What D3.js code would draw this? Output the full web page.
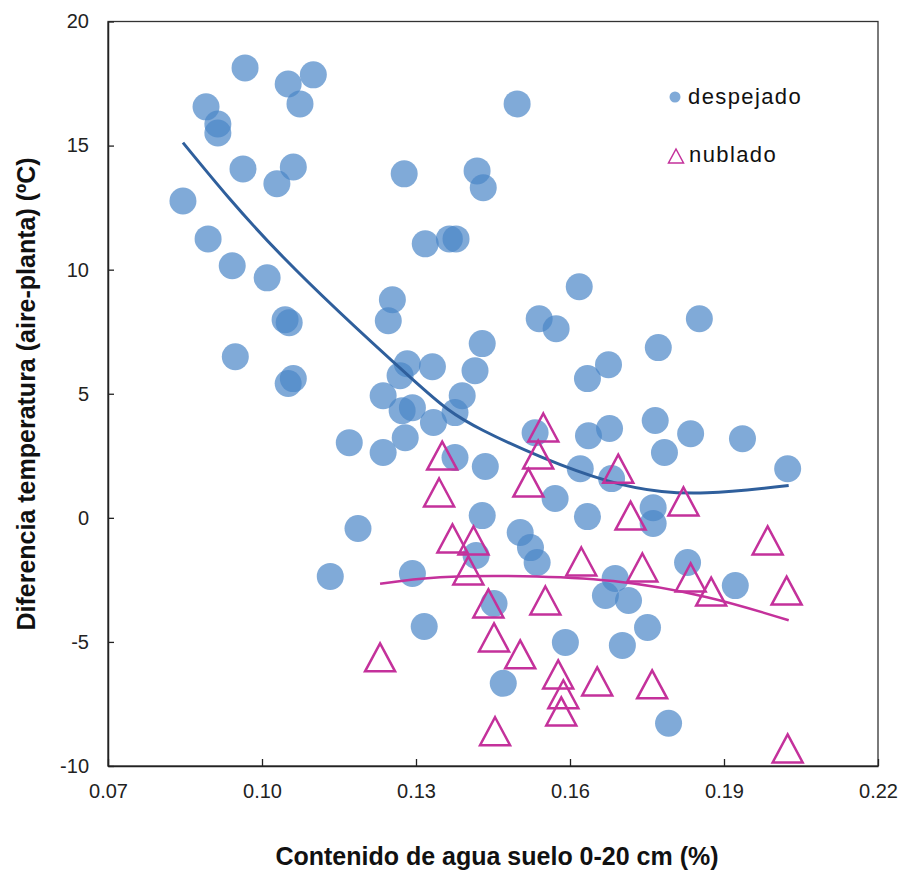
<!DOCTYPE html>
<html>
<head>
<meta charset="utf-8">
<script src="https://cdn.jsdelivr.net/npm/d3@7"></script>
<style>
  body { margin: 0; background: #fff; }
  svg { display: block; }
  text { font-family: "Liberation Sans", Arial, sans-serif; }
</style>
</head>
<body>
<div id="chart"></div>
<script>
// values
var xTicks = [0.07, 0.10, 0.13, 0.16, 0.19, 0.22];
var yTicks = [-10, -5, 0, 5, 10, 15, 20];

// despejado (clear sky) - soil water, temp diff
var despejadoX = [0.0967, 0.0891, 0.0914, 0.0914, 0.1051, 0.1100, 0.1074, 0.0963, 0.1061, 0.1029,
    0.0846, 0.1277, 0.0895, 0.0942, 0.1010, 0.1318, 0.1365, 0.1378, 0.1497, 0.1419,
    0.1431, 0.1254, 0.1246, 0.1045, 0.1053, 0.0948, 0.1051, 0.1061, 0.1429, 0.1415,
    0.1283, 0.1332, 0.1269, 0.1236, 0.1293, 0.1273, 0.1390, 0.1376, 0.1334, 0.1279,
    0.1170, 0.1236, 0.1376, 0.1435, 0.1618, 0.1540, 0.1573, 0.1852, 0.1772, 0.1675,
    0.1634, 0.1766, 0.1835, 0.1936, 0.1784, 0.1636, 0.1677, 0.1532, 0.1620, 0.1681,
    0.1571, 0.1762, 0.1762, 0.1429, 0.1634, 0.1503, 0.1523, 0.1536, 0.1417, 0.1688,
    0.1669, 0.1714, 0.1829, 0.1922, 0.2024, 0.1452, 0.1591, 0.1702, 0.1751, 0.1470,
    0.1792, 0.1187, 0.1133, 0.1293, 0.1316];
var despejadoY = [18.13, 16.56, 15.87, 15.51, 17.48, 17.85, 16.68, 14.06, 14.14, 13.46,
    12.77, 13.86, 11.24, 10.16, 9.67, 11.04, 11.24, 11.24, 16.68, 13.98,
    13.30, 8.79, 7.94, 7.98, 7.86, 6.49, 5.41, 5.61, 7.02, 5.93,
    6.21, 6.09, 5.73, 4.92, 4.44, 4.32, 4.92, 4.24, 3.84, 3.23,
    3.03, 2.63, 2.43, 2.07, 9.31, 8.02, 7.62, 8.02, 6.86, 6.17,
    5.61, 3.92, 3.39, 3.19, 2.63, 3.31, 3.60, 3.43, 1.98, 1.58,
    0.78, 0.41, -0.23, 0.09, 0.05, -0.59, -1.20, -1.80, -1.52, -2.44,
    -3.13, -3.33, -1.80, -2.73, 1.98, -3.45, -5.02, -5.14, -4.42, -6.67,
    -8.28, -0.43, -2.36, -2.24, -4.38];

// nublado (cloudy)
var nubladoX = [0.1230, 0.1351, 0.1345, 0.1371, 0.1412, 0.1402, 0.1441, 0.1452, 0.1503, 0.1454,
    0.1718, 0.1821, 0.1622, 0.1741, 0.1835, 0.1875, 0.1552, 0.1577, 0.1587, 0.1583,
    0.1653, 0.1760, 0.1538, 0.1548, 0.1694, 0.1519, 0.1985, 0.2022, 0.2024];
var nubladoY = [-5.62, 2.51, 1.02, -0.83, -0.91, -2.12, -3.45, -4.82, -5.50, -8.60,
    0.09, 0.66, -1.76, -2.00, -2.40, -2.97, -3.33, -6.31, -7.11, -7.80,
    -6.59, -6.71, 2.55, 3.64, 1.98, 1.42, -0.91, -2.93, -9.29];

// polynomial trend lines
var trendDespejadoX = [0.0846, 0.1042, 0.1289, 0.1432, 0.1672, 0.1867, 0.2026];
var trendDespejadoY = [15.12, 10.49, 5.66, 3.51, 1.50, 1.01, 1.30];
var trendNubladoX = [0.1230, 0.1347, 0.1510, 0.1684, 0.1867, 0.2026];
var trendNubladoY = [-2.66, -2.39, -2.35, -2.55, -3.20, -4.13];

var width = 901, height = 874;
var blue = "#4a86c8", blueLine = "#2f5f9c", pink = "#c4319b";

var svg = d3.select("#chart").append("svg")
    .attr("width", width)
    .attr("height", height);

var x = d3.scaleLinear().domain([0.07, 0.22]).range([108, 878]);
var y = d3.scaleLinear().domain([-10, 20]).range([766, 21.5]);

// plot frame
svg.append("rect")
    .attr("x", x(0.07))
    .attr("y", y(20))
    .attr("width", x(0.22) - x(0.07))
    .attr("height", y(-10) - y(20))
    .attr("fill", "none")
    .attr("stroke", "#333")
    .attr("stroke-width", 1.3);

var xAxis = svg.append("g")
    .attr("transform", "translate(0," + y(-10) + ")")
    .call(d3.axisBottom(x).tickValues(xTicks).tickSizeInner(-7).tickSizeOuter(0)
        .tickFormat(d3.format(".2f")));
xAxis.select(".domain").attr("stroke", "#222").attr("stroke-width", 1.5);
xAxis.selectAll(".tick line").attr("stroke", "#222").attr("stroke-width", 1.3);
xAxis.selectAll(".tick text")
    .attr("y", 18)
    .attr("fill", "#222")
    .style("font-size", "20px");

var yAxis = svg.append("g")
    .attr("transform", "translate(" + x(0.07) + ",0)")
    .call(d3.axisLeft(y).tickValues(yTicks).tickSizeInner(-6).tickSizeOuter(0)
        .tickFormat(function(d) { return String(d); }));
yAxis.select(".domain").attr("stroke", "#222").attr("stroke-width", 1.5);
yAxis.selectAll(".tick line").attr("stroke", "#222").attr("stroke-width", 1.3);
yAxis.selectAll(".tick text")
    .attr("x", -19)
    .attr("fill", "#222")
    .style("font-size", "20px");

// despejado circles
var blueData = despejadoX.map(function(d, i) { return [d, despejadoY[i]]; });
svg.append("g").selectAll("circle")
    .data(blueData)
    .enter()
    .append("circle")
    .attr("cx", function(d) { return x(d[0]); })
    .attr("cy", function(d) { return y(d[1]); })
    .attr("r", 13.5)
    .attr("fill", blue)
    .attr("fill-opacity", 0.7);

// blue trend
var line = d3.line()
    .x(function(d) { return x(d[0]); })
    .y(function(d) { return y(d[1]); })
    .curve(d3.curveNatural);

svg.append("path")
    .datum(trendDespejadoX.map(function(d, i) { return [d, trendDespejadoY[i]]; }))
    .attr("d", line)
    .attr("fill", "none")
    .attr("stroke", blueLine)
    .attr("stroke-width", 3);

// nublado triangles
function triangle(w, h) {
    var p = d3.path();
    p.moveTo(0, -h / 2);
    p.lineTo(w / 2, h / 2);
    p.lineTo(-w / 2, h / 2);
    p.closePath();
    return p.toString();
}
var pinkData = nubladoX.map(function(d, i) { return [d, nubladoY[i]]; });
svg.append("g").selectAll("path")
    .data(pinkData)
    .enter()
    .append("path")
    .attr("transform", function(d) {
        return "translate(" + x(d[0]) + "," + y(d[1]) + ")";
    })
    .attr("d", triangle(30, 28))
    .attr("fill", "none")
    .attr("stroke", pink)
    .attr("stroke-width", 2.5)
    .attr("stroke-linejoin", "miter");

svg.append("path")
    .datum(trendNubladoX.map(function(d, i) { return [d, trendNubladoY[i]]; }))
    .attr("d", line)
    .attr("fill", "none")
    .attr("stroke", pink)
    .attr("stroke-width", 2.5);

// legend
var legend = svg.append("g");
legend.append("circle")
    .attr("cx", 675)
    .attr("cy", 97)
    .attr("r", 5.5)
    .attr("fill", blue)
    .attr("fill-opacity", 0.7);
legend.append("text")
    .attr("x", 688)
    .attr("y", 104)
    .style("font-size", "22px")
    .style("letter-spacing", "1.4px")
    .attr("fill", "#111")
    .text("despejado");
legend.append("path")
    .attr("transform", "translate(676,156)")
    .attr("d", triangle(15, 14))
    .attr("fill", "none")
    .attr("stroke", pink)
    .attr("stroke-width", 1.5);
legend.append("text")
    .attr("x", 689)
    .attr("y", 162)
    .style("font-size", "22px")
    .style("letter-spacing", "1.4px")
    .attr("fill", "#111")
    .text("nublado");

// axis titles
svg.append("text")
    .attr("x", 497)
    .attr("y", 865)
    .attr("text-anchor", "middle")
    .style("font-size", "25px")
    .style("font-weight", "bold")
    .attr("fill", "#111")
    .text("Contenido de agua suelo 0-20 cm (%)");

svg.append("text")
    .attr("transform", "translate(35,394) rotate(-90)")
    .attr("text-anchor", "middle")
    .style("font-size", "25px")
    .style("font-weight", "bold")
    .attr("fill", "#111")
    .text("Diferencia temperatura (aire-planta) (ºC)");
</script>
</body>
</html>
